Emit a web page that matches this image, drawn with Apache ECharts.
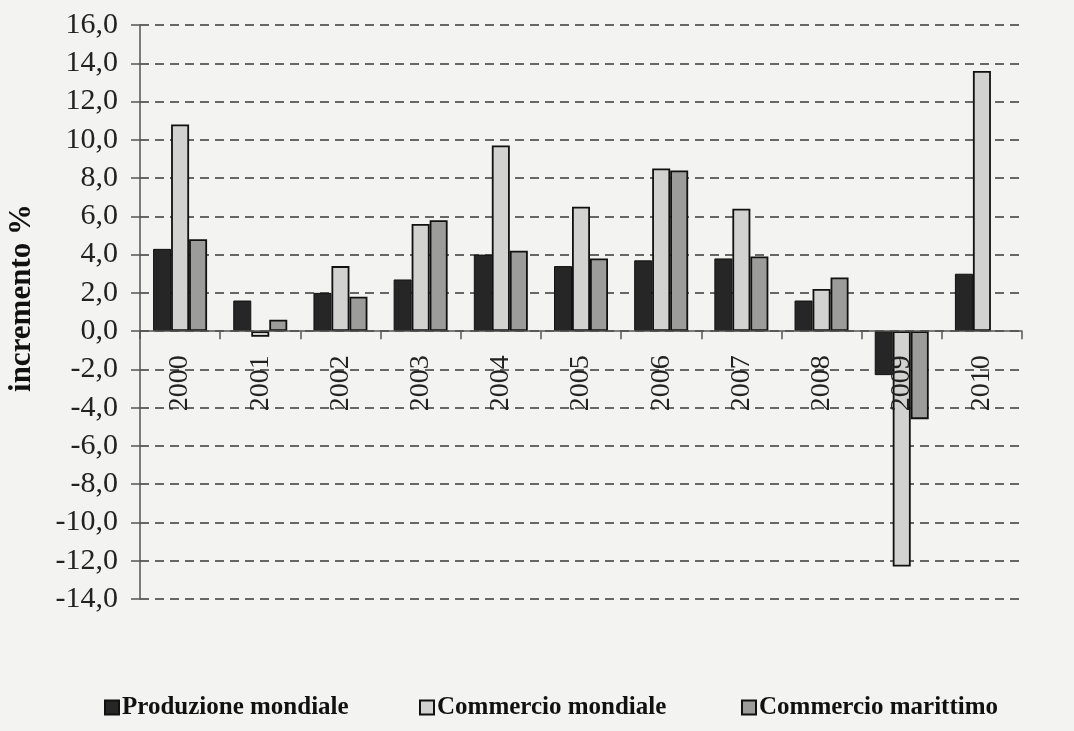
<!DOCTYPE html>
<html><head><meta charset="utf-8">
<script src="https://cdn.jsdelivr.net/npm/echarts@6/dist/echarts.min.js"></script>
<style>html,body{margin:0;padding:0;background:#f3f3f1;}#c{width:1074px;height:731px;}</style>
</head><body><div id="c"></div>
<script>
const years = ['2000','2001','2002','2003','2004','2005','2006','2007','2008','2009','2010'];
const produzioneMondiale = [4.3, 1.6, 2.0, 2.7, 4.0, 3.4, 3.7, 3.8, 1.6, -2.3, 3.0];
const commercioMondiale = [10.8, -0.3, 3.4, 5.6, 9.7, 6.5, 8.5, 6.4, 2.2, -12.3, 13.6];
const commercioMarittimo = [4.8, 0.6, 1.8, 5.8, 4.2, 3.8, 8.4, 3.9, 2.8, -4.6, null];
const seriesNames = ['Produzione mondiale', 'Commercio mondiale', 'Commercio marittimo'];
const yAxisName = 'incremento %';

const serif = '"Liberation Serif", "Times New Roman", serif';
const chart = echarts.init(document.getElementById('c'));
const legendCommon = {
  top: 690, itemWidth: 14, itemHeight: 14, itemGap: 0,
  icon: 'rect',
  textStyle: {fontFamily: serif, fontWeight: 'bold', fontSize: 25, color: '#111', padding: [0,0,0,-2]}
};
const yMin = -14, yMax = 16, gridTop = 25, gridBottom = 132, chartH = 731;
const plotH = chartH - gridTop - gridBottom;
const zeroOffset = -plotH * (0 - yMin) / (yMax - yMin);
chart.setOption({
  backgroundColor: '#f3f3f1',
  animation: false,
  grid: {left: 140, right: 52, top: gridTop, bottom: gridBottom},
  legend: [
    Object.assign({}, legendCommon, {left: 99, data: [seriesNames[0]]}),
    Object.assign({}, legendCommon, {left: 414, data: [seriesNames[1]]}),
    Object.assign({}, legendCommon, {left: 736, data: [seriesNames[2]]})
  ],
  graphic: [{
    type: 'text', x: 22, y: 298, rotation: Math.PI / 2,
    style: {text: yAxisName, fontFamily: serif, fontWeight: 'bold', fontSize: 31, fill: '#111',
            textAlign: 'center', textVerticalAlign: 'middle'}
  }],
  xAxis: {
    type: 'category', data: years, position: 'bottom', offset: zeroOffset, z: 10,
    axisLine: {onZero: false, lineStyle: {color: '#555', width: 1.5}},
    axisTick: {show: true, length: 8, lineStyle: {color: '#555', width: 1.5}},
    axisLabel: {rotate: 90, margin: 24, fontFamily: serif, fontSize: 28, color: '#222'}
  },
  yAxis: {
    type: 'value', min: yMin, max: yMax, interval: 2,
    axisLine: {show: true, lineStyle: {color: '#555', width: 1.5}},
    axisTick: {show: true, length: 9, lineStyle: {color: '#555', width: 1.5}},
    axisLabel: {margin: 22, fontFamily: serif, fontSize: 30, color: '#222',
      formatter: v => v.toFixed(1).replace('.', ',')},
    splitLine: {show: true, lineStyle: {color: '#3a3a3a', width: 1.5, type: [9, 6]}}
  },
  series: [
    {name: seriesNames[0], type: 'bar', data: produzioneMondiale, barWidth: 18, barGap: '0%',
     itemStyle: {color: '#262626', borderColor: '#111', borderWidth: 1}},
    {name: seriesNames[1], type: 'bar', data: commercioMondiale, barWidth: 18, barGap: '0%',
     itemStyle: {color: '#d2d2d0', borderColor: '#111', borderWidth: 1.8}},
    {name: seriesNames[2], type: 'bar', data: commercioMarittimo, barWidth: 18, barGap: '0%',
     itemStyle: {color: '#9c9c9a', borderColor: '#111', borderWidth: 1.8}}
  ]
});
</script></body></html>
